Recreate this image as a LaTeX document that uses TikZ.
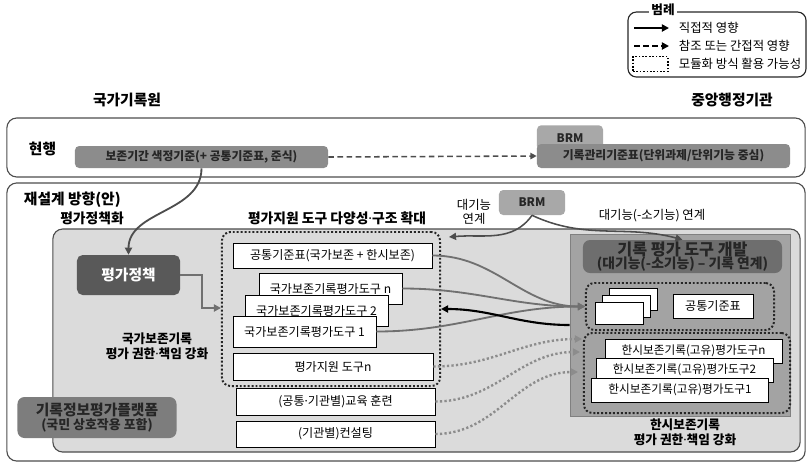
\documentclass[tikz,border=0pt]{standalone}
\usepackage{fontspec}
\setmainfont{Noto Sans CJK KR}
\newfontfamily\latinfont{Noto Sans}
\newcommand\mdot{{\latinfont ·}}
\usetikzlibrary{arrows.meta}

\definecolor{framegray}{HTML}{4D4D4D}
\definecolor{boxgray}{HTML}{8C8C8C}
\definecolor{tabgray}{HTML}{A8A8A8}
\definecolor{polgray}{HTML}{595959}
\definecolor{platgray}{HTML}{7D7D7D}
\definecolor{panelgray}{HTML}{DBDBDB}
\definecolor{rpanelgray}{HTML}{A3A3A3}
\definecolor{devgray}{HTML}{6E6E6E}
\definecolor{linkgray}{HTML}{707070}
\definecolor{dotgray}{HTML}{8C8C8C}

\begin{document}
\begin{tikzpicture}[x=0.025cm, y=-0.025cm,
    head/.style={font=\bfseries\fontsize{10.5}{12}\selectfont},
    subhead/.style={font=\bfseries\fontsize{9.8}{11}\selectfont},
    note/.style={font=\fontsize{8.8}{10}\selectfont, align=center},
    frame/.style={rectangle, draw=framegray, line width=0.8pt, rounded corners=7pt},
    gbox/.style={rectangle, rounded corners=3pt, fill=boxgray, inner sep=1pt,
        font=\bfseries\fontsize{8.4}{10}\selectfont, text=black!85},
    tabbox/.style={gbox, fill=tabgray},
    wbox/.style={rectangle, draw=black, line width=0.6pt, fill=white, inner sep=1pt,
        font=\fontsize{8.6}{10}\selectfont},
    dotgrp/.style={rectangle, draw=black!85, line width=1.4pt, rounded corners=6pt,
        dash pattern=on 1.4pt off 1.4pt},
    link/.style={-{Triangle[length=5pt, width=5pt]}, draw=linkgray, line width=1.3pt},
    dlink/.style={-{Triangle[length=4.5pt, width=4.5pt]}, draw=framegray, line width=1.1pt,
        dash pattern=on 4pt off 2.5pt},
    plink/.style={-{Triangle[length=5pt, width=5pt]}, draw=dotgray, line width=1.7pt,
        dash pattern=on 1.6pt off 1.6pt}]

    \useasboundingbox (0,0) rectangle (809,463);

    \node[rectangle, draw=black!85, line width=0.8pt, rounded corners=6pt,
        minimum width=4.45cm, minimum height=1.625cm] (legend) at (717,44.5) {};
    \node[fill=white, inner sep=2pt, font=\bfseries\fontsize{9}{10}\selectfont] (legtitle) at (663,10) {범례};
    \coordinate (l1a) at (634,28);
    \coordinate (l1b) at (669,28);
    \coordinate (l2a) at (634,46);
    \coordinate (l2b) at (669,46);
    \draw[-{Triangle[length=5pt, width=5pt]}, line width=1.3pt] (l1a) -- (l1b);
    \draw[-{Triangle[length=5pt, width=5pt]}, line width=1.3pt, dash pattern=on 4pt off 2.5pt] (l2a) -- (l2b);
    \node[rectangle, draw=black, line width=1.2pt, dash pattern=on 1.2pt off 1.2pt,
        minimum width=0.875cm, minimum height=0.375cm] (l3) at (650.5,64) {};
    \node[note, anchor=west] (leg1) at (674,28) {직접적 영향};
    \node[note, anchor=west] (leg2) at (674,46) {참조 또는 간접적 영향};
    \node[note, anchor=west] (leg3) at (674,64) {모듈화 방식 활용 가능성};

    \node[head] (nara) at (127,100) {국가기록원};
    \node[head] (cao) at (732,100) {중앙행정기관};

    \node[frame, minimum width=19.95cm, minimum height=1.475cm] (nowbox) at (406,147.5) {};
    \node[head, anchor=west] (nowlbl) at (24,149) {현행};
    \node[gbox, minimum width=6.325cm, minimum height=0.55cm] (cur) at (201.5,157)
        {보존기간 색정기준(+ 공통기준표, 준식)};
    \node[tabbox, minimum width=1.65cm, minimum height=0.625cm, anchor=north] (brm) at (570,125) {BRM};
    \node[gbox, minimum width=6.325cm, minimum height=0.6cm] (kmstd) at (663.5,156)
        {기록관리기준표(단위과제/단위기능 중심)};

    \node[frame, minimum width=19.95cm, minimum height=6.95cm] (newbox) at (406,322) {};
    \node[head, anchor=west] (newlbl) at (19,200) {재설계 방향(안)};
    \node[subhead] (pollbl) at (92,218) {평가정책화};
    \node[subhead] (toollbl) at (337,218) {평가지원 도구 다양성\mdot 구조 확대};
    \node[tabbox, minimum width=1.65cm, minimum height=0.625cm] (brm2) at (532,202.5) {BRM};
    \node[note] (biglink) at (474,212) {대기능\\연계};
    \node[note] (sublink) at (652,216) {대기능(-소기능) 연계};

    \node[rectangle, draw=framegray, line width=0.8pt, fill=panelgray, rounded corners=7pt,
        minimum width=18.675cm, minimum height=5.575cm] (panel) at (426.5,340.5) {};
    \node[rectangle, draw=black!50, line width=0.6pt, fill=rpanelgray,
        minimum width=5.5cm, minimum height=4.55cm] (rpanel) at (680,325) {};

    \node[rectangle, rounded corners=4pt, fill=polgray, text=white,
        font=\bfseries\fontsize{10.5}{12}\selectfont,
        minimum width=2.575cm, minimum height=1cm] (pol) at (128.5,275) {평가정책};
    \node[subhead, font=\bfseries\fontsize{9}{11}\selectfont, align=center] (natlbl) at (157,346)
        {국가보존기록\\평가 권한\mdot 책임 강화};
    \node[gbox, fill=platgray, rounded corners=5pt, align=center,
        font=\bfseries\fontsize{10.5}{12}\selectfont,
        minimum width=3.975cm, minimum height=1.025cm] (plat) at (97,417.5)
        {기록정보평가플랫폼\\[-2pt]{\fontsize{9.2}{10}\selectfont (국민 상호작용 포함)}};

    \node[dotgrp, minimum width=5.45cm, minimum height=3.85cm] (midgrp) at (331,309) {};
    \node[wbox, minimum width=4.975cm, minimum height=0.625cm] (cstd) at (332.5,255.5)
        {공통기준표(국가보존 + 한시보존)};
    \node[wbox, minimum width=3.575cm, minimum height=0.775cm] (natn) at (330.5,288.5) {국가보존기록평가도구 n};
    \node[wbox, minimum width=3.575cm, minimum height=0.775cm] (nat2) at (316.5,310.5) {국가보존기록평가도구 2};
    \node[wbox, minimum width=3.575cm, minimum height=0.775cm] (nat1) at (304.5,331.5) {국가보존기록평가도구 1};
    \node[wbox, minimum width=5cm, minimum height=0.675cm] (supn) at (333,366.5) {평가지원 도구n};
    \node[wbox, minimum width=4.975cm, minimum height=0.675cm] (edu) at (335.5,401.5) {(공통\mdot 기관별)교육 훈련};
    \node[wbox, minimum width=4.975cm, minimum height=0.65cm] (cons) at (335.5,434) {(기관별)컨설팅};

    \node[gbox, fill=devgray, rounded corners=5pt, align=center,
        font=\bfseries\fontsize{11.5}{12}\selectfont,
        minimum width=4.975cm, minimum height=0.825cm] (dev) at (682.5,256.5)
        {기록 평가 도구 개발\\[-3pt]{\fontsize{9.8}{10}\selectfont (대기능(-소기능) – 기록 연계)}};
    \node[dotgrp, minimum width=4.7cm, minimum height=1.175cm] (grpA) at (680,306.5) {};
    \node[wbox, minimum width=1.2cm, minimum height=0.55cm] (pg3) at (633,299) {};
    \node[wbox, minimum width=1.2cm, minimum height=0.55cm] (pg2) at (626.5,306) {};
    \node[wbox, minimum width=1.2cm, minimum height=0.55cm] (pg1) at (619.5,313.5) {};
    \node[wbox, minimum width=2cm, minimum height=0.6cm] (cstd2) at (713,306) {공통기준표};
    \node[dotgrp, minimum width=5.15cm, minimum height=2cm] (grpB) at (687,373) {};
    \node[wbox, font=\fontsize{8.3}{10}\selectfont, minimum width=4.425cm, minimum height=0.6cm] (tmpn) at (693.5,351) {한시보존기록(고유)평가도구n};
    \node[wbox, font=\fontsize{8.3}{10}\selectfont, minimum width=4.425cm, minimum height=0.6cm] (tmp2) at (684.5,370) {한시보존기록(고유)평가도구2};
    \node[wbox, font=\fontsize{8.3}{10}\selectfont, minimum width=4.425cm, minimum height=0.6cm] (tmp1) at (680,390) {한시보존기록(고유)평가도구1};
    \node[subhead, font=\bfseries\fontsize{9}{11}\selectfont, align=center] (tmplbl) at (685,432)
        {한시보존기록\\평가 권한\mdot 책임 강화};

    \coordinate (elb) at (202,308);
    \coordinate (brmL) at (449,237);
    \coordinate (inB1) at (582,339);
    \coordinate (inB2) at (580,352);
    \coordinate (inB3) at (578,372);

    \draw[dlink] (cur.east) -- (kmstd.west);
    \draw[link, draw=framegray] (cur.south) to[out=-90, in=90] (pol.north);
    \draw[link] (pol.east) -| (elb) -- (midgrp.west |- elb);
    \draw[link, draw=framegray, line width=1.1pt] (brm2.south) to[out=235, in=5] (brmL);
    \draw[link, draw=framegray, line width=1.1pt] (brm2.south) to[out=-25, in=165] (dev.north);
    \draw[link] (cstd.east) to[out=0, in=180] (grpA.west);
    \draw[link] (natn.east) to[out=0, in=180] (grpA.west);
    \draw[link] (nat1.east) to[out=0, in=180] (grpA.west);
    \draw[link, draw=black, line width=1.5pt] (rpanel.west) to[out=180, in=0] (midgrp.east);
    \draw[plink] (supn.east) to[out=0, in=180] (inB1);
    \draw[plink] (edu.east) to[out=0, in=180] (inB2);
    \draw[plink] (cons.east) to[out=0, in=180] (inB3);
\end{tikzpicture}
\end{document}
